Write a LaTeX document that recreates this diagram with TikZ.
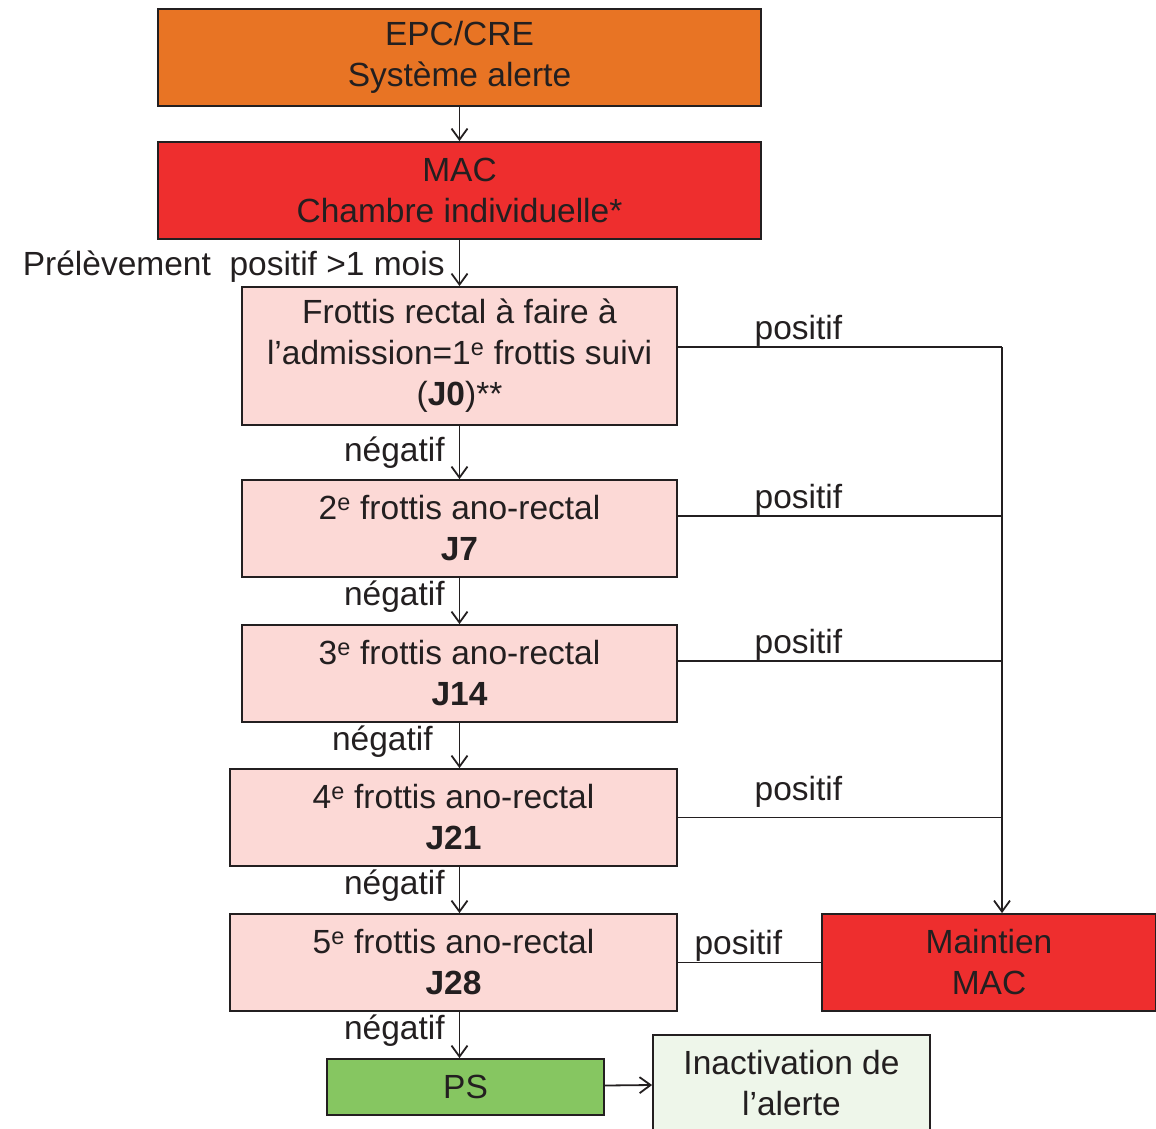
\documentclass[tikz,border=0pt]{standalone}
\usepackage{fontspec}
\setmainfont{Liberation Sans}
\usepackage{xcolor}
\usetikzlibrary{arrows.meta}
\definecolor{epcorange}{RGB}{232,116,36}
\definecolor{macred}{RGB}{238,46,46}
\definecolor{suivipink}{RGB}{252,217,214}
\definecolor{psgreen}{RGB}{134,198,97}
\definecolor{inactgreen}{RGB}{238,246,234}
\definecolor{ink}{RGB}{35,31,32}

\begin{document}
\begin{tikzpicture}[x=1pt,y=-1pt]
\tikzset{>={Straight Barb[length=11pt,width=16pt]}}
\tikzstyle{box} =[draw=ink,line width=1.8pt,align=center,inner sep=0pt,text=ink,font=\fontsize{33.5}{41}\selectfont]
\tikzstyle{lbl} =[inner sep=0pt,text=ink,font=\fontsize{33.5}{36}\selectfont]
\tikzstyle{wire} =[draw=ink,line width=1.8pt]

\useasboundingbox (0,0) rectangle (1156,1129);

\node[box,fill=epcorange,minimum width=603pt,minimum height=97pt](epc) at (459.5,57.5){EPC/CRE\\Système alerte};
\node[box,fill=macred,minimum width=603pt,minimum height=97pt](mac) at (459.5,190.5){MAC\\Chambre individuelle*};
\node[box,fill=suivipink,minimum width=435pt,minimum height=138pt](f1) at (459.5,356){Frottis rectal à faire à\\l’admission=1\textsuperscript{e} frottis suivi\\(\textbf{J0})**};
\node[box,fill=suivipink,minimum width=435pt,minimum height=97pt](f2) at (459.5,528.5){2\textsuperscript{e} frottis ano-rectal\\\textbf{J7}};
\node[box,fill=suivipink,minimum width=435pt,minimum height=97pt](f3) at (459.5,673.5){3\textsuperscript{e} frottis ano-rectal\\\textbf{J14}};
\node[box,fill=suivipink,minimum width=447pt,minimum height=97pt](f4) at (453.5,817.5){4\textsuperscript{e} frottis ano-rectal\\\textbf{J21}};
\node[box,fill=suivipink,minimum width=447pt,minimum height=97pt](f5) at (453.5,962.5){5\textsuperscript{e} frottis ano-rectal\\\textbf{J28}};
\node[box,fill=macred,minimum width=334pt,minimum height=97pt](maint) at (989,962.5){Maintien\\MAC};
\node[box,fill=psgreen,minimum width=277pt,minimum height=56pt](ps) at (465.5,1087){PS};
\node[box,fill=inactgreen,minimum width=277pt,minimum height=97pt](inact) at (791.5,1083.5){Inactivation de\\l’alerte};

\coordinate (bus) at (1002,347);

% vertical chain
\draw[wire,->] (epc) -- (mac);
\draw[wire,->] (mac) -- node[lbl,anchor=east,xshift=-14pt,yshift=-4pt]{Prélèvement~ positif >1 mois} (f1);
\draw[wire,->] (f1) -- node[lbl,anchor=east,xshift=-14pt]{négatif} (f2);
\draw[wire,->] (f2) -- node[lbl,anchor=east,xshift=-14pt,yshift=4pt]{négatif} (f3);
\draw[wire,->] (f3) -- node[lbl,anchor=east,xshift=-26pt,yshift=4pt]{négatif} (f4.north -| f3.south);
\draw[wire,->] (f4.south -| f3.south) -- node[lbl,anchor=east,xshift=-14pt,yshift=4pt]{négatif} (f5.north -| f3.south);
\draw[wire,->] (f5.south -| f3.south) -- node[lbl,anchor=east,xshift=-14pt,yshift=4pt]{négatif} (ps.north -| f3.south);
\draw[wire,->] (ps) -- (inact);

% positif branches
\draw[wire] ([yshift=9pt]f1.east) -- node[lbl,pos=0.234,anchor=south west]{positif} (bus);
\draw[wire] ([yshift=12.5pt]f2.east) -- node[lbl,pos=0.234,anchor=south west]{positif} ([yshift=12.5pt]f2.east -| bus);
\draw[wire] ([yshift=12.5pt]f3.east) -- node[lbl,pos=0.234,anchor=south west]{positif} ([yshift=12.5pt]f3.east -| bus);
\draw[wire] (f4.east) -- node[lbl,pos=0.234,anchor=south west,yshift=9pt]{positif} (f4.east -| bus);
\draw[wire,->] (bus) -- (maint.north -| bus);
\draw[wire] (f5) -- node[lbl,pos=0.11,anchor=south west]{positif} (maint);

\end{tikzpicture}
\end{document}
